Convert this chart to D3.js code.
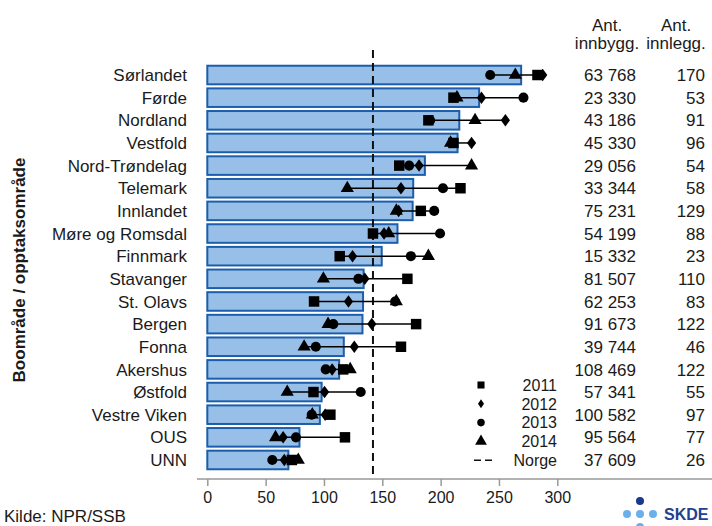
<!DOCTYPE html>
<html>
<head>
<meta charset="utf-8">
<script src="https://cdn.jsdelivr.net/npm/d3@7"></script>
<style>
  body { margin: 0; background: #fff; }
  text { font-family: "Liberation Sans", Arial, sans-serif; fill: #1a1a1a; }
</style>
</head>
<body>
<div id="chart"></div>
<script>
// Data
var areas = ["Sørlandet", "Førde", "Nordland", "Vestfold", "Nord-Trøndelag", "Telemark",
    "Innlandet", "Møre og Romsdal", "Finnmark", "Stavanger", "St. Olavs", "Bergen",
    "Fonna", "Akershus", "Østfold", "Vestre Viken", "OUS", "UNN"];
var rateMean = [269, 233, 216, 214.5, 186.5, 176.5, 176, 163, 149.5, 134, 133.5, 133,
    117, 113, 98, 96.5, 79, 69.5];
var rate2011 = [283, 211, 189.5, 211, 164.5, 217, 183, 142, 113.5, 171.5, 91.5, 179,
    166, 116.5, 91, 105.5, 118, 72.5];
var rate2012 = [287.5, 235, 255.5, 226.5, 181.5, 166, 164, 151.5, 124.5, 135, 121, 141,
    126, 107, 100.5, 101, 65, 66];
var rate2013 = [242.5, 271, 191, 210, 173, 202, 194.5, 199.5, 174.5, 129.5, 161, 108,
    93, 101.5, 131.5, 89.5, 76, 55.7];
var rate2014 = [264, 214, 229.5, 208.5, 226.5, 120, 162, 155.5, 189.5, 99.5, 162, 103.5,
    83, 122.5, 68.5, 90, 58.5, 78];
var innbygg = ["63 768", "23 330", "43 186", "45 330", "29 056", "33 344", "75 231", "54 199",
    "15 332", "81 507", "62 253", "91 673", "39 744", "108 469", "57 341", "100 582",
    "95 564", "37 609"];
var innlegg = ["170", "53", "91", "96", "54", "58", "129", "88", "23", "110", "83", "122",
    "46", "122", "55", "97", "77", "26"];
var norge = 142;
var xTicks = [0, 50, 100, 150, 200, 250, 300];

var width = 712, height = 526;

var svg = d3.select("#chart")
    .append("svg")
        .attr("width", width)
        .attr("height", height);

/* Scales */
var x = d3.scaleLinear()
    .domain([0, 300])
    .range([207.3, 557.3]);
var y = d3.scaleBand()
    .domain(areas)
    .range([63.7, 471.3])
    .paddingInner(0.18)
    .paddingOuter(0.09);
var yc = function(d){ return y(d) + y.bandwidth() / 2; };

/* Bars */
svg.selectAll(".bar")
    .data(areas)
    .enter()
    .append("rect")
        .attr("class", "bar")
        .attr("x", x(0))
        .attr("y", function(d){ return y(d); })
        .attr("width", function(d, i){ return x(rateMean[i]) - x(0); })
        .attr("height", y.bandwidth())
        .attr("fill", "#98bfe7")
        .attr("stroke", "#1c5eab")
        .attr("stroke-width", 2);

/* Norway average */
svg.append("line")
    .attr("x1", x(norge)).attr("x2", x(norge))
    .attr("y1", 50).attr("y2", 479)
    .attr("stroke", "#111")
    .attr("stroke-width", 2)
    .attr("stroke-dasharray", "8,5");

/* Range lines per area */
var years = [rate2011, rate2012, rate2013, rate2014];
svg.selectAll(".range")
    .data(areas)
    .enter()
    .append("line")
        .attr("class", "range")
        .attr("x1", function(d, i){ return x(d3.min(years, function(s){ return s[i]; })); })
        .attr("x2", function(d, i){ return x(d3.max(years, function(s){ return s[i]; })); })
        .attr("y1", yc)
        .attr("y2", yc)
        .attr("stroke", "#000")
        .attr("stroke-width", 1.5);

/* Markers */
var symbols = [
    d3.symbol().type(d3.symbolSquare).size(110),
    d3.symbol().type(d3.symbolDiamond2).size(75),
    d3.symbol().type(d3.symbolCircle).size(80),
    d3.symbol().type(d3.symbolTriangle).size(75)
];
years.forEach(function(series, k){
    svg.selectAll(".m" + k)
        .data(areas)
        .enter()
        .append("path")
            .attr("class", "m" + k)
            .attr("d", symbols[k])
            .attr("fill", "#000")
            .attr("transform", function(d, i){
                var sy = k === 1 ? "scale(0.85,1.15)" : "";
                return "translate(" + x(series[i]) + "," + yc(d) + ")" + sy;
            });
});

/* X axis */
svg.append("line")
    .attr("x1", 197).attr("x2", 712)
    .attr("y1", 479).attr("y2", 479)
    .attr("stroke", "#999")
    .attr("stroke-width", 1.5);
var xAxis = d3.axisBottom(x)
    .tickValues(xTicks)
    .tickSizeInner(7)
    .tickSizeOuter(0)
    .tickPadding(6);
var gx = svg.append("g")
    .attr("transform", "translate(0,479)")
    .call(xAxis);
gx.select(".domain").remove();
gx.selectAll(".tick line").attr("stroke", "#999").attr("stroke-width", 1.5);
gx.selectAll(".tick text")
    .attr("fill", "#1a1a1a")
    .style("font-size", "16px")
    .style("font-family", "'Liberation Sans', Arial, sans-serif");

/* Category labels */
svg.selectAll(".label")
    .data(areas)
    .enter()
    .append("text")
        .attr("class", "label")
        .attr("x", 187)
        .attr("y", yc)
        .attr("dy", "0.36em")
        .attr("text-anchor", "end")
        .style("font-size", "17px")
        .text(function(d){ return d; });

/* Axis title */
svg.append("text")
    .attr("transform", "translate(25,270) rotate(-90)")
    .attr("text-anchor", "middle")
    .style("font-size", "17px")
    .style("font-weight", "bold")
    .text("Boområde / opptaksområde");

/* Table */
var header = svg.append("g").style("font-size", "17px");
[[607, "innbygg."], [676, "innlegg."]].forEach(function(h){
    header.append("text").attr("x", h[0]).attr("y", 31).attr("text-anchor", "middle").text("Ant.");
    header.append("text").attr("x", h[0]).attr("y", 49).attr("text-anchor", "middle").text(h[1]);
});
svg.selectAll(".inb")
    .data(areas)
    .enter()
    .append("text")
        .attr("class", "inb")
        .attr("x", 636)
        .attr("y", yc)
        .attr("dy", "0.36em")
        .attr("text-anchor", "end")
        .style("font-size", "17px")
        .text(function(d, i){ return innbygg[i]; });
svg.selectAll(".inl")
    .data(areas)
    .enter()
    .append("text")
        .attr("class", "inl")
        .attr("x", 705)
        .attr("y", yc)
        .attr("dy", "0.36em")
        .attr("text-anchor", "end")
        .style("font-size", "17px")
        .text(function(d, i){ return innlegg[i]; });

/* Legend */
var legendItems = ["2011", "2012", "2013", "2014", "Norge"];
var legendSymbols = [
    d3.symbol().type(d3.symbolSquare).size(50),
    d3.symbol().type(d3.symbolDiamond2).size(36),
    d3.symbol().type(d3.symbolCircle).size(45),
    d3.symbol().type(d3.symbolTriangle).size(60)
];
var legend = svg.append("g");
legendItems.forEach(function(name, i){
    var ly = 385 + i * 18.8;
    if (i < 4) {
        legend.append("path")
            .attr("d", legendSymbols[i])
            .attr("fill", "#000")
            .attr("transform", "translate(481," + ly + ")" + (i === 1 ? "scale(0.8,1.2)" : ""));
    } else {
        legend.append("line")
            .attr("x1", 474).attr("x2", 492)
            .attr("y1", ly).attr("y2", ly)
            .attr("stroke", "#111")
            .attr("stroke-width", 1.5)
            .attr("stroke-dasharray", "7,4");
    }
    legend.append("text")
        .attr("x", 557)
        .attr("y", ly)
        .attr("dy", "0.36em")
        .attr("text-anchor", "end")
        .style("font-size", "16px")
        .text(name);
});

/* Source */
svg.append("text")
    .attr("x", 4)
    .attr("y", 522)
    .style("font-size", "17px")
    .text("Kilde: NPR/SSB");

/* SKDE logo */
var logo = svg.append("g");
logo.append("circle").attr("cx", 640).attr("cy", 501).attr("r", 4).attr("fill", "#173a8c");
[627, 640, 653].forEach(function(cx){
    logo.append("circle").attr("cx", cx).attr("cy", 514).attr("r", 4).attr("fill", "#6cb0ea");
});
logo.append("circle").attr("cx", 640).attr("cy", 527).attr("r", 4).attr("fill", "#6cb0ea");
logo.append("text")
    .attr("x", 664)
    .attr("y", 520)
    .style("font-size", "16px")
    .style("font-weight", "bold")
    .style("fill", "#1f418f")
    .text("SKDE");
</script>
</body>
</html>
